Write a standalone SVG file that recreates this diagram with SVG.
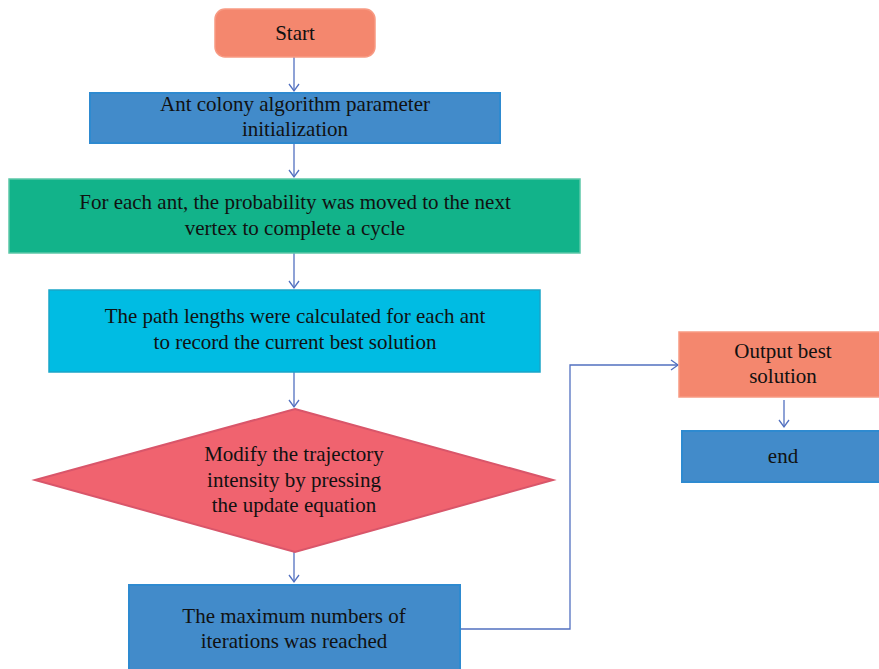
<svg xmlns="http://www.w3.org/2000/svg" width="879" height="669" viewBox="0 0 879 669">
<style>
text{font-family:"Liberation Serif",serif;font-size:21px;fill:#111;text-anchor:middle}
.c{fill:none;stroke:#5270C0;stroke-width:1.3}
.blue{fill:#428BCA;stroke:#2E8AD0;stroke-width:2}
.sal{fill:#F4876E;stroke:#F79A83;stroke-width:1.5}
</style>
<defs>
<marker id="a" markerWidth="12" markerHeight="12" refX="10" refY="6" orient="auto" markerUnits="userSpaceOnUse">
<path d="M3,1 L10,6 L3,11" fill="none" stroke="#5270C0" stroke-width="1.3"/>
</marker>
</defs>
<g id="connectors">
<line class="c" x1="294" y1="57" x2="294" y2="91" marker-end="url(#a)"/>
<line class="c" x1="294" y1="143" x2="294" y2="177" marker-end="url(#a)"/>
<line class="c" x1="294" y1="253" x2="294" y2="288" marker-end="url(#a)"/>
<line class="c" x1="294" y1="372" x2="294" y2="407" marker-end="url(#a)"/>
<line class="c" x1="294" y1="552" x2="294" y2="582" marker-end="url(#a)"/>
<polyline class="c" points="461,629 570,629 570,365 678,365" marker-end="url(#a)"/>
<line class="c" x1="784" y1="400" x2="784" y2="427" marker-end="url(#a)"/>
</g>
<g id="start">
<rect class="sal" x="215" y="9" width="160" height="48" rx="10"/>
<text x="295" y="40">Start</text>
</g>
<g id="init">
<rect class="blue" x="90" y="93" width="410" height="50"/>
<text x="295" y="111">Ant colony algorithm parameter</text>
<text x="295" y="136">initialization</text>
</g>
<g id="move">
<rect x="9" y="179" width="571" height="74" fill="#12B38A" stroke="#5CC7A8" stroke-width="1.5"/>
<text x="295" y="209">For each ant, the probability was moved to the next</text>
<text x="295" y="235">vertex to complete a cycle</text>
</g>
<g id="path">
<rect x="49" y="290" width="491" height="82" fill="#00BCE3" stroke="#1AA5C8" stroke-width="1.5"/>
<text x="295" y="323">The path lengths were calculated for each ant</text>
<text x="295" y="349">to record the current best solution</text>
</g>
<g id="modify">
<polygon points="295,409 553,480 295,552 35,480" fill="#F0636F" stroke="#D9566A" stroke-width="2"/>
<text x="294" y="461">Modify the trajectory</text>
<text x="294" y="487">intensity by pressing</text>
<text x="294" y="512">the update equation</text>
</g>
<g id="maxiter">
<rect class="blue" x="129" y="585" width="331" height="86"/>
<text x="294" y="623">The maximum numbers of</text>
<text x="294" y="648">iterations was reached</text>
</g>
<g id="output">
<rect class="sal" x="679" y="332" width="202" height="65"/>
<text x="783" y="358">Output best</text>
<text x="783" y="383">solution</text>
</g>
<g id="end">
<rect class="blue" x="682" y="431" width="199" height="51"/>
<text x="783" y="463">end</text>
</g>
</svg>
